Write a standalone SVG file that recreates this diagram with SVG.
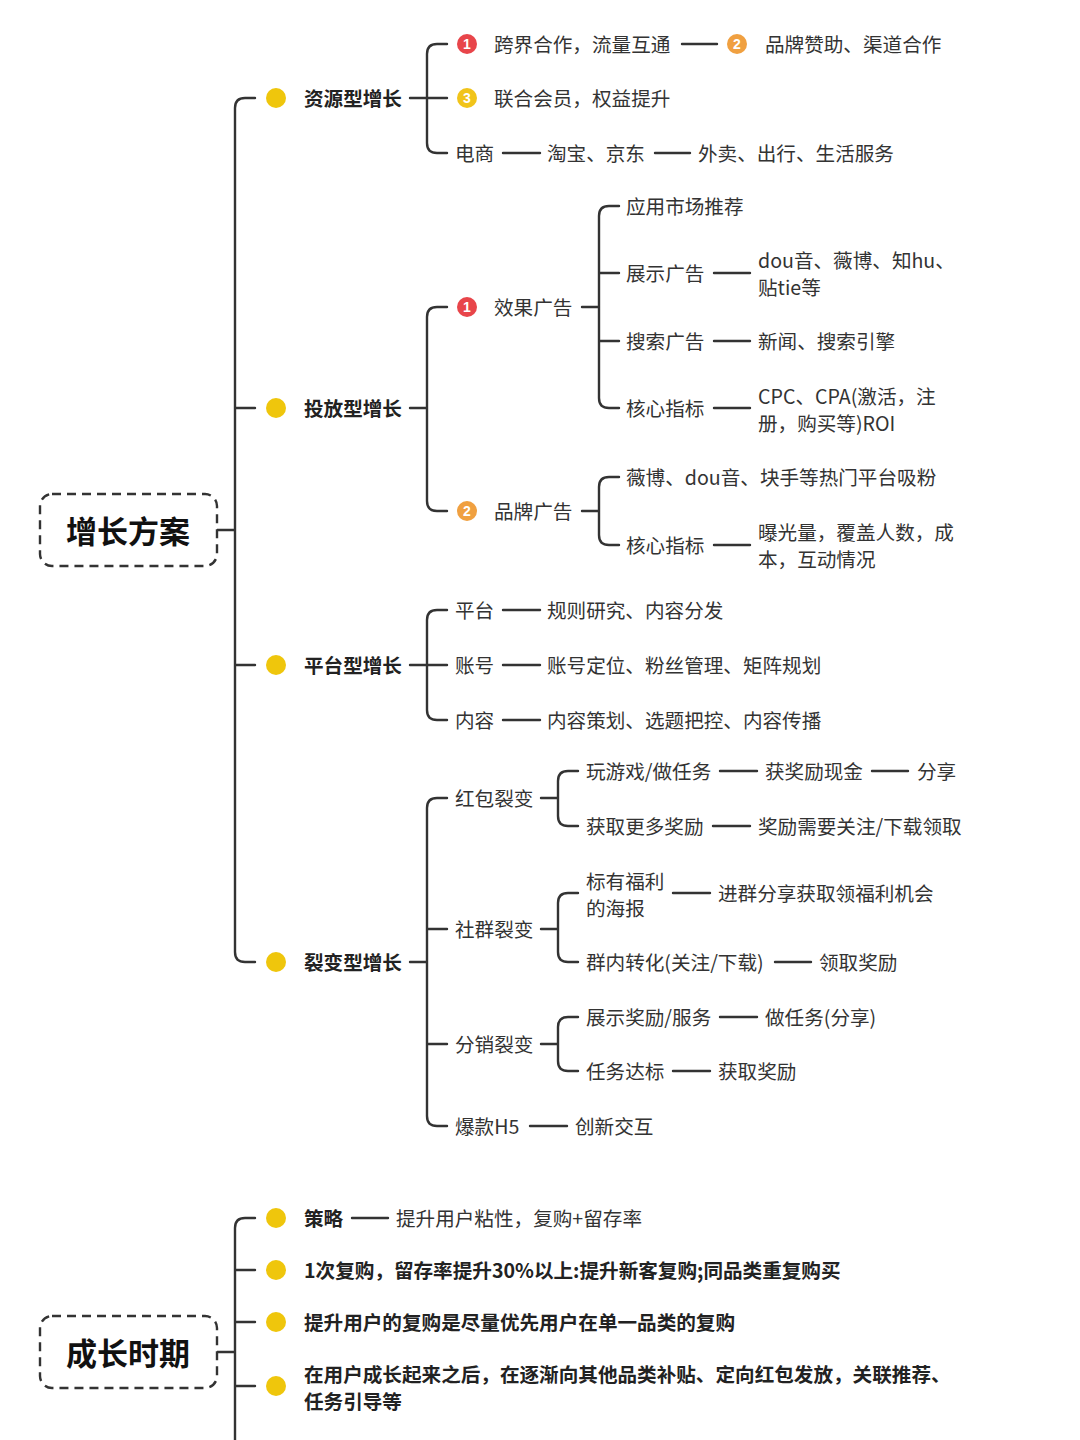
<svg xmlns="http://www.w3.org/2000/svg" width="1080" height="1440" viewBox="0 0 1080 1440">
<style>
.ln{fill:none;stroke:#333;stroke-width:2.4;stroke-linecap:round;stroke-linejoin:round}
.t{font-family:"Noto Sans CJK SC","Noto Sans",sans-serif;font-size:19.6px;fill:#333;dominant-baseline:central}
.b{font-weight:bold;fill:#222}
.root{font-family:"Noto Sans CJK SC","Noto Sans",sans-serif;font-size:31px;font-weight:bold;fill:#111;dominant-baseline:central;text-anchor:middle}
.box{fill:#fff;stroke:#333;stroke-width:2.4;stroke-dasharray:9 6}
.dot{fill:#EFC60C}
.bn{font-family:"Liberation Sans",sans-serif;font-size:14px;font-weight:bold;fill:#fff;text-anchor:middle;dominant-baseline:central}
.red{fill:#E8454A}.org{fill:#F0A040}.yel{fill:#F1C41A}
</style>
<rect width="1080" height="1440" fill="#fff"/>
<g id="connectors">
<path class="ln" d="M217 530 H235 M255 98 H245 Q235 98 235 108 V952 Q235 962 245 962 H255 M235 408 H255 M235 665 H255"/>
<path class="ln" d="M410 98 H427 M447 44 H437 Q427 44 427 54 V143 Q427 153 437 153 H447 M427 98 H447 M682 44 H717 M503 153 H540 M655 153 H690"/>
<path class="ln" d="M410 408 H427 M447 307 H437 Q427 307 427 317 V501 Q427 511 437 511 H447"/>
<path class="ln" d="M582 307 H599 M619 206 H609 Q599 206 599 216 V398 Q599 408 609 408 H619 M599 273 H619 M599 341 H619 M714 273 H750 M714 341 H750 M714 408 H750"/>
<path class="ln" d="M582 511 H599 M619 477 H609 Q599 477 599 487 V535 Q599 545 609 545 H619 M714 545 H750"/>
<path class="ln" d="M410 665 H427 M447 610 H437 Q427 610 427 620 V710 Q427 720 437 720 H447 M427 665 H447 M503 610 H540 M503 665 H540 M503 720 H540"/>
<path class="ln" d="M410 962 H427 M447 798 H437 Q427 798 427 808 V1116 Q427 1126 437 1126 H447 M427 929 H447 M427 1044 H447"/>
<path class="ln" d="M541 798 H558 M578 771 H568 Q558 771 558 781 V816 Q558 826 568 826 H578 M720 771 H757 M872 771 H908 M713 826 H750"/>
<path class="ln" d="M541 929 H558 M578 893 H568 Q558 893 558 903 V952 Q558 962 568 962 H578 M673 893 H710 M775 962 H811"/>
<path class="ln" d="M541 1044 H558 M578 1017 H568 Q558 1017 558 1027 V1061 Q558 1071 568 1071 H578 M720 1017 H757 M673 1071 H710"/>
<path class="ln" d="M530 1126 H567"/>
<path class="ln" d="M217 1352 H235 M255 1218 H245 Q235 1218 235 1228 V1440 M235 1270 H255 M235 1322 H255 M235 1386 H255 M352 1218 H388"/>
</g>
<g id="root1"><rect class="box" x="40" y="494" width="177" height="72" rx="12"/><text class="root" x="128" y="529">增长方案</text></g>
<g id="n-ziyuan"><circle class="dot" cx="276" cy="98" r="10"/><text class="t b" x="304" y="97">资源型增长</text></g>
<g id="n-kuajie"><circle class="red" cx="467" cy="44" r="10"/><text class="bn" x="467" y="44">1</text><text class="t" x="494" y="43">跨界合作，流量互通</text></g>
<g id="n-pinpai"><circle class="org" cx="737" cy="44" r="10"/><text class="bn" x="737" y="44">2</text><text class="t" x="765" y="43">品牌赞助、渠道合作</text></g>
<g id="n-lianhe"><circle class="yel" cx="467" cy="98" r="10"/><text class="bn" x="467" y="98">3</text><text class="t" x="494" y="97">联合会员，权益提升</text></g>
<g id="n-dianshang"><text class="t" x="455" y="152">电商</text></g>
<g id="n-taobao"><text class="t" x="547" y="152">淘宝、京东</text></g>
<g id="n-waimai"><text class="t" x="698" y="152">外卖、出行、生活服务</text></g>
<g id="n-toufang"><circle class="dot" cx="276" cy="408" r="10"/><text class="t b" x="304" y="407">投放型增长</text></g>
<g id="n-xiaoguo"><circle class="red" cx="467" cy="307" r="10"/><text class="bn" x="467" y="307">1</text><text class="t" x="494" y="306">效果广告</text></g>
<g id="n-yingyong"><text class="t" x="626" y="205">应用市场推荐</text></g>
<g id="n-zhanshi"><text class="t" x="626" y="272">展示广告</text></g>
<g id="n-dou"><text class="t"><tspan x="758" y="259">dou音、薇博、知hu、</tspan><tspan x="758" y="286">贴tie等</tspan></text></g>
<g id="n-sousuo"><text class="t" x="626" y="340">搜索广告</text></g>
<g id="n-xinwen"><text class="t" x="758" y="340">新闻、搜索引擎</text></g>
<g id="n-hexin1"><text class="t" x="626" y="407">核心指标</text></g>
<g id="n-cpc"><text class="t"><tspan x="758" y="394.5">CPC、CPA(激活，注</tspan><tspan x="758" y="421.5">册，购买等)ROI</tspan></text></g>
<g id="n-pinpaiguanggao"><circle class="org" cx="467" cy="511" r="10"/><text class="bn" x="467" y="511">2</text><text class="t" x="494" y="510">品牌广告</text></g>
<g id="n-weibo"><text class="t" x="626" y="476">薇博、dou音、块手等热门平台吸粉</text></g>
<g id="n-hexin2"><text class="t" x="626" y="544">核心指标</text></g>
<g id="n-baoguang"><text class="t"><tspan x="758" y="530.5">曝光量，覆盖人数，成</tspan><tspan x="758" y="557.5">本，互动情况</tspan></text></g>
<g id="n-pingtai"><circle class="dot" cx="276" cy="665" r="10"/><text class="t b" x="304" y="664">平台型增长</text></g>
<g id="n-pt"><text class="t" x="455" y="609">平台</text></g>
<g id="n-guize"><text class="t" x="547" y="609">规则研究、内容分发</text></g>
<g id="n-zhanghao"><text class="t" x="455" y="664">账号</text></g>
<g id="n-dingwei"><text class="t" x="547" y="664">账号定位、粉丝管理、矩阵规划</text></g>
<g id="n-neirong"><text class="t" x="455" y="719">内容</text></g>
<g id="n-cehua"><text class="t" x="547" y="719">内容策划、选题把控、内容传播</text></g>
<g id="n-liebian"><circle class="dot" cx="276" cy="962" r="10"/><text class="t b" x="304" y="961">裂变型增长</text></g>
<g id="n-hongbao"><text class="t" x="455" y="797">红包裂变</text></g>
<g id="n-wanyouxi"><text class="t" x="586" y="770">玩游戏/做任务</text></g>
<g id="n-huojiang"><text class="t" x="765" y="770">获奖励现金</text></g>
<g id="n-fenxiang"><text class="t" x="917" y="770">分享</text></g>
<g id="n-gengduo"><text class="t" x="586" y="825">获取更多奖励</text></g>
<g id="n-guanzhu"><text class="t" x="758" y="825">奖励需要关注/下载领取</text></g>
<g id="n-shequn"><text class="t" x="455" y="928">社群裂变</text></g>
<g id="n-haibao"><text class="t"><tspan x="586" y="879.5">标有福利</tspan><tspan x="586" y="906.5">的海报</tspan></text></g>
<g id="n-jinqun"><text class="t" x="718" y="892">进群分享获取领福利机会</text></g>
<g id="n-qunnei"><text class="t" x="586" y="961">群内转化(关注/下载)</text></g>
<g id="n-lingqu"><text class="t" x="819" y="961">领取奖励</text></g>
<g id="n-fenxiao"><text class="t" x="455" y="1043">分销裂变</text></g>
<g id="n-zhanshijl"><text class="t" x="586" y="1016">展示奖励/服务</text></g>
<g id="n-zuorenwu"><text class="t" x="765" y="1016">做任务(分享)</text></g>
<g id="n-dabiao"><text class="t" x="586" y="1070">任务达标</text></g>
<g id="n-huoqu"><text class="t" x="718" y="1070">获取奖励</text></g>
<g id="n-baokuan"><text class="t" x="455" y="1125">爆款H5</text></g>
<g id="n-chuangxin"><text class="t" x="575" y="1125">创新交互</text></g>
<g id="root2"><rect class="box" x="40" y="1316" width="177" height="72" rx="12"/><text class="root" x="128" y="1351">成长时期</text></g>
<g id="n-celue"><circle class="dot" cx="276" cy="1218" r="10"/><text class="t b" x="304" y="1217">策略</text></g>
<g id="n-tisheng"><text class="t" x="396" y="1217">提升用户粘性，复购+留存率</text></g>
<g id="n-fugou"><circle class="dot" cx="276" cy="1270" r="10"/><text class="t b" x="304" y="1269">1次复购，留存率提升30%以上:提升新客复购;同品类重复购买</text></g>
<g id="n-danyi"><circle class="dot" cx="276" cy="1322" r="10"/><text class="t b" x="304" y="1321">提升用户的复购是尽量优先用户在单一品类的复购</text></g>
<g id="n-chengzhang"><circle class="dot" cx="276" cy="1386" r="10"/><text class="t b"><tspan x="304" y="1373">在用户成长起来之后，在逐渐向其他品类补贴、定向红包发放，关联推荐、</tspan><tspan x="304" y="1400">任务引导等</tspan></text></g>
</svg>
